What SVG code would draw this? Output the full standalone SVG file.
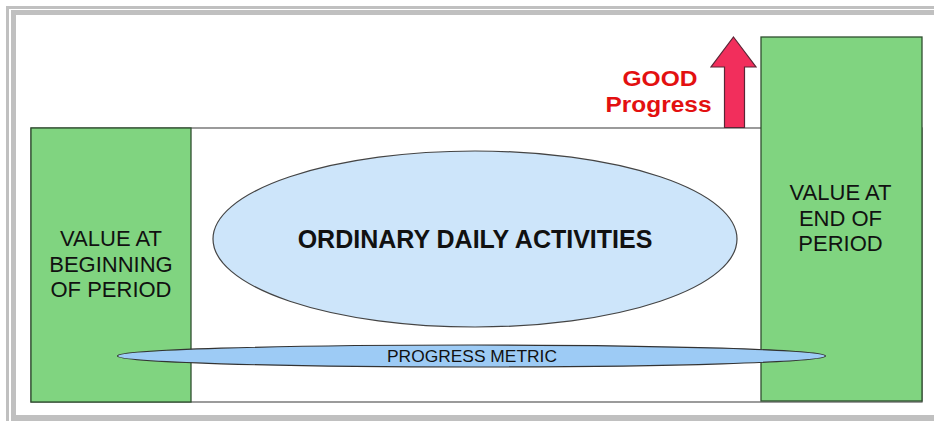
<svg xmlns="http://www.w3.org/2000/svg" width="934" height="421" viewBox="0 0 934 421">
<style>
.frame{fill:#c0c0c0}
.green{fill:#80d480;stroke:#2f4f2f;stroke-width:1.3}
.lbl{font-family:"Liberation Sans",Arial,sans-serif;font-size:22px;fill:#111;text-anchor:middle}
.red{font-family:"Liberation Sans",Arial,sans-serif;font-size:22px;font-weight:bold;fill:#e31010;text-anchor:middle}
</style>
<rect width="934" height="421" fill="#fff"/>
<g id="frame">
<rect class="frame" x="6" y="6" width="928" height="3"/>
<rect class="frame" x="6" y="6" width="3" height="415"/>
<rect class="frame" x="11" y="10" width="923" height="5"/>
<rect class="frame" x="11" y="10" width="5" height="411"/>
<rect class="frame" x="11" y="415" width="923" height="6"/>
</g>
<g id="period-box">
<rect x="31" y="128" width="891" height="274" fill="#fff" stroke="#666" stroke-width="1.3"/>
</g>
<g id="begin-value">
<rect class="green" x="31" y="128" width="160" height="274"/>
<text class="lbl" x="111" y="246">VALUE AT</text>
<text class="lbl" x="111" y="271.5">BEGINNING</text>
<text class="lbl" x="111" y="297">OF PERIOD</text>
</g>
<g id="end-value">
<rect class="green" x="761" y="37" width="161" height="364"/>
<text class="lbl" x="840.5" y="200">VALUE AT</text>
<text class="lbl" x="840.5" y="225.5">END OF</text>
<text class="lbl" x="840.5" y="251">PERIOD</text>
</g>
<g id="daily-activities">
<ellipse cx="475" cy="239" rx="262" ry="88" fill="#cde5fa" stroke="#444" stroke-width="1.2"/>
<text x="475" y="248" font-family="'Liberation Sans',Arial,sans-serif" font-size="25" font-weight="bold" fill="#111" text-anchor="middle">ORDINARY DAILY ACTIVITIES</text>
</g>
<g id="progress-metric">
<ellipse cx="471.5" cy="356" rx="354" ry="11" fill="#9dcbf5" stroke="#333" stroke-width="1.2"/>
<text x="472" y="362" font-family="'Liberation Sans',Arial,sans-serif" font-size="16.5" fill="#111" text-anchor="middle" textLength="170" lengthAdjust="spacingAndGlyphs">PROGRESS METRIC</text>
</g>
<g id="good-progress">
<polygon points="733.5,37 756,67 744.5,67 744.5,127.5 724.5,127.5 724.5,67 711,67" fill="#f22e5c" stroke="#5a2636" stroke-width="1.2"/>
<text class="red" x="660" y="86" textLength="75" lengthAdjust="spacingAndGlyphs">GOOD</text>
<text class="red" x="658.5" y="112" textLength="106" lengthAdjust="spacingAndGlyphs">Progress</text>
</g>
</svg>
